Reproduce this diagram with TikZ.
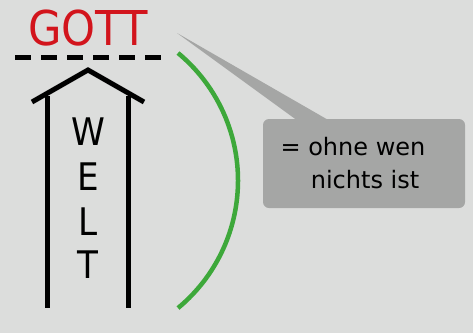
\documentclass[tikz,border=0pt]{standalone}
\usepackage{fontspec}
\setmainfont{DejaVu Sans}
\newfontfamily\condfont{DejaVu Sans Condensed}
\definecolor{bgc}{HTML}{DCDDDC}
\definecolor{callc}{HTML}{A5A6A5}
\definecolor{godred}{HTML}{D2141C}
\definecolor{arcgreen}{HTML}{3DA83A}
\begin{document}
\begin{tikzpicture}[x=1pt,y=-1pt,
  wall/.style={line width=5pt,black},
  weltletter/.style={anchor=base,inner sep=0pt,font=\condfont\fontsize{38}{38}\selectfont},
  calltext/.style={anchor=base,inner sep=0pt,font=\fontsize{24}{24}\selectfont}]
\fill[bgc] (0,0) rectangle (473,333);
\useasboundingbox (0,0) rectangle (473,333);
% GOTT
\node[anchor=base,inner sep=0pt,text=godred,font=\condfont\fontsize{48}{48}\selectfont] (gott) at (88,45) {GOTT};
% dashed line
\coordinate (dl) at (15,57);
\coordinate (dr) at (161,57);
\draw[line width=5pt,dash pattern=on 15.5pt off 10.5pt] (dl) -- (dr);
% house
\coordinate (rl) at (32,102);
\coordinate (apex) at (88,70);
\coordinate (rr) at (144,102);
\draw[wall,line join=miter] (rl) -- (apex) -- (rr);
\coordinate (lt) at (47,96);
\coordinate (lb) at (47,308);
\coordinate (rt) at (128,96);
\coordinate (rb) at (128,308);
\draw[wall] (lt) -- (lb);
\draw[wall] (rt) -- (rb);
\node[weltletter] (w) at (88,145) {W};
\node[weltletter] (e) at (88,190) {E};
\node[weltletter] (l) at (88,235) {L};
\node[weltletter] (t) at (88,278) {T};
% green arc
\coordinate (gtop) at (178,53);
\draw[arcgreen,line width=4.5pt] (gtop) arc[start angle=-50.4,end angle=50.4,radius=165.5];
% callout
\coordinate (tip) at (177,33);
\fill[callc] (tip) -- (330,121) -- (298,121) -- cycle;
\fill[callc,rounded corners=6pt] (263,119) rectangle (465,208);
\node[calltext] (c1) at (353,155) {= ohne wen};
\node[calltext] (c2) at (365,188) {nichts ist};
\end{tikzpicture}
\end{document}
